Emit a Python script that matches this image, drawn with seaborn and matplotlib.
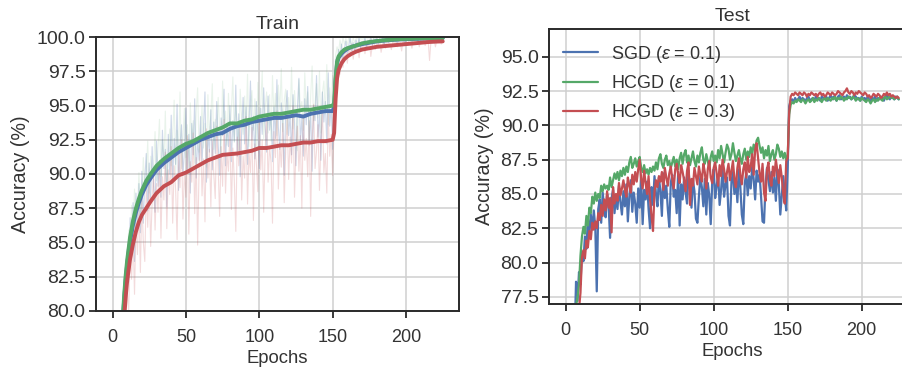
import numpy as np
import pandas as pd
import matplotlib
matplotlib.use("Agg")
import matplotlib.pyplot as plt
import seaborn as sns

# ---------------- data ----------------
# smoothed training accuracy (sampled epochs)
train_smooth_epochs = [5, 6, 7, 8, 9, 10, 12, 14, 16, 18, 20, 23, 26, 30, 35, 40, 45, 50, 55, 60,
                       65, 70, 75, 80, 85, 90, 95, 100, 105, 110, 115, 120, 125, 130, 135, 140, 145, 150,
                       151, 152, 153, 154, 156, 158, 160, 163, 166, 170, 175, 180, 185, 190, 195, 200,
                       205, 210, 215, 220, 225]
train_sgd_smooth = [74.5, 77.0, 79.2, 80.9, 82.3, 83.4, 85.1, 86.3, 87.2, 87.9, 88.5, 89.2, 89.7, 90.3, 90.8,
                    91.2, 91.6, 91.9, 92.2, 92.5, 92.7, 92.9, 93.0, 93.3, 93.5, 93.6, 93.8, 93.9, 94.0, 94.1,
                    94.1, 94.2, 94.3, 94.2, 94.4, 94.5, 94.6, 94.6, 94.9, 96.8, 98.1, 98.5, 98.8, 99.0, 99.15,
                    99.3, 99.4, 99.5, 99.6, 99.7, 99.76, 99.8, 99.84, 99.86, 99.88, 99.9, 99.92, 99.93, 99.94]
train_hcgd1_smooth = [75.0, 77.5, 79.5, 81.2, 82.6, 83.7, 85.4, 86.6, 87.5, 88.2, 88.8, 89.5, 90.0, 90.6, 91.1,
                      91.5, 91.9, 92.2, 92.4, 92.7, 93.0, 93.2, 93.4, 93.7, 93.7, 93.9, 94.0, 94.2, 94.3, 94.4,
                      94.4, 94.5, 94.6, 94.7, 94.7, 94.8, 94.9, 95.0, 95.2, 97.0, 98.2, 98.6, 98.9, 99.1, 99.2,
                      99.3, 99.4, 99.55, 99.65, 99.72, 99.78, 99.82, 99.86, 99.88, 99.9, 99.92, 99.93, 99.94, 99.95]
train_hcgd3_smooth = [72.5, 75.0, 77.3, 79.5, 81.0, 82.2, 83.8, 84.9, 85.8, 86.5, 87.0, 87.5, 88.0, 88.6, 89.1,
                      89.4, 89.9, 90.1, 90.4, 90.7, 91.0, 91.2, 91.4, 91.45, 91.5, 91.6, 91.7, 91.9, 91.9, 92.0,
                      92.1, 92.1, 92.2, 92.3, 92.3, 92.4, 92.4, 92.5, 93.0, 95.5, 97.0, 97.6, 98.1, 98.4, 98.6,
                      98.8, 98.95, 99.1, 99.2, 99.3, 99.35, 99.4, 99.45, 99.5, 99.55, 99.6, 99.65, 99.68, 99.7]

# raw (noisy) per-epoch training accuracy, epochs 0..225
train_sgd_raw = [
    44.0, 57.0, 63.5, 68.0, 71.5, 74.0, 76.8, 78.9, 80.8, 82.6,
    84.5, 82.1, 86.8, 84.0, 87.9, 83.6, 88.6, 86.2, 89.3, 85.7,
    90.2, 86.4, 89.6, 91.5, 87.3, 90.8, 88.1, 92.0, 89.0, 87.2,
    92.4, 89.1, 91.0, 88.3, 93.2, 90.4, 91.8, 87.6, 92.9, 90.0,
    94.3, 89.5, 92.6, 90.7, 95.1, 88.8, 92.1, 93.6, 89.9, 91.7,
    94.8, 90.2, 92.9, 88.6, 93.7, 91.4, 95.5, 89.7, 92.6, 91.0,
    94.2, 90.8, 93.5, 96.0, 89.4, 92.9, 91.6, 94.7, 90.3, 93.8,
    91.5, 95.3, 92.2, 89.9, 94.1, 92.8, 96.2, 90.6, 93.7, 92.0,
    95.0, 90.9, 93.9, 92.4, 96.5, 91.3, 94.4, 89.8, 93.1, 95.6,
    92.2, 94.9, 90.7, 93.6, 96.8, 92.5, 94.2, 91.1, 95.3, 93.0,
    90.4, 94.8, 92.9, 96.3, 93.5, 91.6, 95.7, 93.2, 94.5, 90.9,
    94.9, 92.6, 96.9, 93.4, 91.8, 95.2, 94.0, 89.9, 94.6, 96.1,
    92.8, 94.3, 91.4, 95.8, 93.7, 90.6, 94.9, 97.0, 92.4, 94.1,
    91.3, 95.5, 93.6, 96.4, 92.1, 94.7, 90.2, 95.0, 93.9, 97.2,
    92.7, 94.4, 91.0, 96.0, 93.8, 95.3, 92.2, 97.4, 93.5, 94.9,
    91.8, 95.8, 98.4, 98.0, 99.1, 98.6, 99.5, 98.3, 99.2, 99.7,
    98.8, 99.4, 100.0, 99.0, 99.6, 98.9, 99.8, 99.3, 100.0, 99.2,
    99.7, 99.5, 100.0, 99.1, 99.8, 99.6, 100.0, 99.4, 99.9, 99.7,
    100.0, 99.5, 99.9, 99.7, 100.0, 99.3, 99.9, 100.0, 99.6, 99.8,
    100.0, 99.7, 99.9, 100.0, 99.5, 99.9, 100.0, 99.8, 100.0, 99.6,
    100.0, 99.8, 100.0, 99.9, 99.6, 100.0, 99.9, 100.0, 99.7, 100.0,
    99.9, 100.0, 99.8, 100.0, 99.6, 100.0, 99.9, 100.0, 99.8, 100.0,
    99.9, 100.0, 99.7, 100.0, 99.9, 100.0]
train_hcgd1_raw = [
    45.5, 58.5, 64.5, 69.0, 72.4, 75.2, 77.6, 79.8, 81.5, 82.0,
    83.1, 85.9, 84.2, 87.7, 85.3, 88.9, 86.0, 87.4, 90.1, 87.0,
    88.3, 91.2, 88.8, 90.0, 92.4, 88.6, 91.3, 89.7, 90.6, 93.1,
    89.5, 91.9, 94.0, 89.8, 92.5, 90.9, 94.6, 89.2, 91.6, 93.3,
    90.6, 92.8, 95.4, 90.1, 93.2, 91.5, 96.0, 90.4, 92.7, 94.8,
    91.2, 93.6, 90.0, 95.2, 92.3, 93.9, 90.8, 94.5, 96.3, 91.6,
    93.1, 95.0, 91.9, 93.7, 90.5, 95.8, 92.6, 94.3, 96.6, 91.8,
    94.0, 92.7, 95.6, 93.3, 91.2, 96.8, 93.5, 94.6, 92.1, 95.9,
    93.0, 94.7, 97.1, 92.3, 95.0, 93.8, 91.6, 96.2, 94.1, 92.9,
    95.7, 93.4, 97.3, 92.0, 94.8, 96.1, 93.2, 95.5, 91.9, 96.7,
    93.6, 95.1, 97.5, 92.6, 94.9, 96.0, 93.0, 95.8, 92.4, 97.2,
    94.2, 95.9, 92.8, 96.5, 94.7, 97.7, 93.1, 95.4, 96.2, 92.9,
    95.6, 94.0, 97.8, 93.3, 96.1, 94.5, 91.7, 96.9, 94.8, 95.3,
    93.2, 97.4, 94.6, 96.0, 92.5, 95.7, 97.9, 93.9, 95.2, 96.6,
    94.1, 97.5, 93.0, 95.9, 96.8, 94.4, 98.0, 93.6, 96.3, 95.1,
    97.2, 96.0, 98.7, 99.3, 98.9, 99.8, 99.2, 100.0, 99.5, 99.9,
    99.4, 100.0, 99.7, 99.3, 100.0, 99.6, 99.9, 100.0, 99.5, 100.0,
    99.8, 100.0, 99.6, 100.0, 99.9, 100.0, 99.7, 100.0, 99.9, 100.0,
    99.8, 100.0, 100.0, 99.7, 100.0, 99.9, 100.0, 99.8, 100.0, 100.0,
    99.9, 100.0, 99.8, 100.0, 100.0, 99.9, 100.0, 99.7, 100.0, 100.0,
    99.9, 100.0, 100.0, 99.8, 100.0, 99.9, 100.0, 100.0, 99.8, 100.0,
    100.0, 99.9, 100.0, 100.0, 99.8, 100.0, 99.9, 100.0, 100.0, 99.9,
    100.0, 100.0, 99.8, 100.0, 99.9, 100.0]
train_hcgd3_raw = [
    40.0, 52.0, 60.0, 65.5, 69.0, 72.0, 74.5, 76.8, 78.7, 80.3,
    81.6, 79.9, 84.0, 82.3, 85.6, 81.2, 86.4, 84.1, 87.5, 82.8,
    88.2, 85.0, 83.6, 88.9, 86.1, 89.6, 84.7, 88.0, 90.2, 85.9,
    89.3, 87.2, 91.0, 85.3, 89.8, 88.1, 91.6, 86.0, 90.3, 88.5,
    92.0, 86.4, 90.6, 88.9, 85.2, 91.4, 89.0, 92.5, 86.7, 90.2,
    88.3, 92.8, 85.6, 90.9, 89.4, 93.0, 87.1, 91.2, 84.8, 90.5,
    92.6, 88.4, 91.1, 86.5, 93.3, 89.7, 91.8, 87.6, 92.4, 90.0,
    88.2, 93.5, 90.4, 86.9, 92.0, 89.1, 94.0, 88.6, 91.5, 90.2,
    93.2, 87.4, 91.9, 89.5, 85.8, 92.7, 90.6, 93.8, 88.1, 91.3,
    89.7, 94.2, 87.8, 91.6, 90.1, 93.4, 86.6, 92.2, 90.8, 88.7,
    93.9, 90.3, 92.5, 87.2, 91.7, 94.4, 89.4, 92.0, 90.9, 86.4,
    93.1, 91.2, 94.6, 88.9, 92.3, 90.5, 93.7, 87.9, 91.8, 94.1,
    89.6, 92.7, 90.8, 95.0, 88.3, 91.9, 93.5, 90.2, 92.8, 87.5,
    94.3, 91.0, 92.6, 89.8, 93.9, 86.9, 92.4, 95.1, 90.4, 91.7,
    93.6, 88.8, 92.2, 94.8, 90.1, 91.5, 88.6, 94.5, 91.3, 92.9,
    89.9, 93.4, 96.4, 97.1, 98.5, 97.3, 98.9, 97.8, 98.6, 99.0,
    98.1, 99.2, 98.7, 99.5, 98.4, 99.3, 98.9, 99.6, 98.5, 99.4,
    99.0, 99.7, 98.8, 99.5, 99.2, 99.8, 98.6, 99.4, 99.7, 99.1,
    99.6, 99.3, 99.8, 98.9, 99.5, 99.7, 99.2, 99.9, 99.4, 99.6,
    99.1, 99.8, 99.5, 99.7, 99.3, 99.9, 99.6, 99.0, 99.8, 99.5,
    99.7, 99.4, 99.9, 99.6, 99.2, 99.8, 99.7, 99.5, 99.9, 99.3,
    99.8, 99.6, 99.9, 99.4, 99.7, 99.9, 98.3, 99.8, 99.6, 99.9,
    99.3, 99.8, 99.7, 99.9, 99.5, 99.8]

# test accuracy, epochs 0..225
test_sgd = [
    30.0, 45.0, 55.0, 62.0, 67.0, 71.0, 74.5, 78.6, 77.2, 79.3,
    78.4, 80.8, 80.1, 81.9, 81.0, 83.2, 82.1, 83.5, 82.4, 83.8,
    82.6, 77.9, 83.9, 84.6, 82.9, 85.1, 84.0, 83.3, 85.0, 84.2,
    81.8, 84.7, 85.3, 83.6, 84.9, 83.9, 85.6, 84.4, 83.5, 85.2,
    84.1, 85.7, 83.0, 84.8, 86.0, 83.7, 85.1, 84.3, 82.9, 85.4,
    84.0, 86.1, 82.8, 85.3, 84.6, 85.9, 83.9, 82.5, 85.5, 84.2,
    86.3, 85.0, 84.1, 86.2, 85.2, 83.4, 86.5, 84.7, 85.6, 83.9,
    82.6, 85.8, 86.4, 84.8, 85.3, 83.6, 86.6, 82.7, 85.7, 84.6,
    86.2, 85.1, 84.3, 86.7, 85.4, 84.0, 86.0, 85.2, 83.2, 82.9,
    84.8, 86.3, 85.5, 84.1, 86.1, 83.5, 85.8, 84.9, 82.8, 85.9,
    86.8, 84.7, 85.6, 86.4, 84.2, 85.3, 86.9, 84.8, 85.7, 86.2,
    83.4, 82.7, 85.9, 86.6, 85.0, 86.1, 84.4, 86.8, 85.5, 83.5,
    82.8, 85.8, 86.5, 84.9, 86.3, 85.4, 87.0, 86.1, 84.6, 86.7,
    85.9, 86.4, 84.8, 83.0, 82.9, 85.6, 86.9, 86.0, 85.2, 86.6,
    85.1, 86.2, 84.5, 86.8, 85.7, 83.5, 84.9, 86.3, 85.0, 83.8,
    86.9, 91.4, 91.8, 91.9, 91.7, 92.0, 91.8, 91.9, 92.1, 91.8,
    92.0, 91.9, 91.7, 92.0, 92.1, 91.8, 91.9, 92.0, 91.8, 92.1,
    91.9, 92.0, 91.8, 92.1, 92.0, 91.9, 92.1, 91.8, 92.0, 92.2,
    91.9, 92.1, 92.0, 91.8, 92.1, 92.2, 91.9, 92.0, 92.1, 91.9,
    92.2, 92.0, 92.1, 91.9, 92.0, 92.2, 92.1, 91.9, 92.0, 91.8,
    92.1, 91.9, 92.0, 91.8, 92.1, 91.9, 91.7, 92.0, 91.9, 92.1,
    91.8, 92.0, 91.9, 92.1, 92.0, 91.8, 92.1, 92.2, 92.0, 91.9,
    92.1, 92.0, 91.9, 92.1, 92.0, 91.9]
test_hcgd1 = [
    32.0, 47.0, 57.0, 63.0, 68.0, 72.0, 75.0, 76.8, 77.5, 78.4,
    80.5, 81.9, 82.6, 82.1, 83.4, 82.7, 84.0, 83.6, 84.8, 84.3,
    85.1, 84.5, 85.0, 84.7, 85.6, 85.2, 85.7, 85.4, 85.6, 85.3,
    86.2, 85.5, 86.0, 86.5, 86.1, 86.6, 86.0, 86.7, 86.3, 86.9,
    86.4, 87.0, 86.6, 87.3, 87.7, 86.9, 87.2, 87.6, 87.0, 87.4,
    87.7, 86.9, 86.6, 87.1, 86.5, 86.8, 86.4, 86.9, 86.6, 87.0,
    86.7, 87.3, 86.8, 87.6, 87.9, 87.2, 86.9, 87.5, 87.8, 87.1,
    87.4, 86.9, 87.3, 87.7, 87.0, 87.5, 86.8, 87.6, 88.0, 87.2,
    87.9, 88.2, 87.3, 87.8, 87.1, 87.6, 88.1, 87.4, 87.0, 87.8,
    87.3, 88.0, 88.4, 87.5, 87.2, 87.9, 87.4, 86.9, 87.7, 88.1,
    87.4, 87.8, 87.3, 88.2, 87.6, 88.5, 87.9, 87.3, 88.0, 88.6,
    88.3, 87.5, 87.9, 88.7, 88.0, 87.4, 87.8, 88.2, 87.6, 87.2,
    87.9, 88.3, 87.5, 88.1, 87.7, 88.4, 87.9, 88.6, 88.2, 88.9,
    89.1, 88.5, 88.0, 88.4, 87.6, 88.2, 87.8, 88.5, 87.4, 87.9,
    88.2, 87.5, 87.9, 88.6, 88.3, 87.7, 88.1, 87.6, 88.0, 87.5,
    87.8, 90.8, 91.5, 91.7, 91.6, 91.8, 91.7, 91.9, 91.8, 91.7,
    91.9, 91.8, 91.6, 91.8, 91.9, 91.7, 91.8, 92.0, 91.7, 91.9,
    91.8, 92.0, 91.9, 91.7, 91.9, 92.0, 91.8, 92.0, 91.9, 91.8,
    92.0, 91.9, 92.1, 91.8, 92.0, 91.9, 92.1, 92.0, 91.8, 92.0,
    91.9, 92.1, 92.0, 91.9, 92.1, 92.0, 91.8, 92.0, 91.9, 91.8,
    92.0, 91.9, 91.8, 91.7, 91.9, 91.8, 91.6, 91.8, 91.9, 91.7,
    91.9, 91.8, 92.0, 91.9, 91.8, 92.0, 92.1, 91.9, 92.0, 92.1,
    92.0, 92.1, 91.9, 92.0, 92.1, 91.9]
test_hcgd3 = [
    28.0, 42.0, 52.0, 60.0, 65.0, 69.0, 72.5, 74.5, 75.8, 76.6,
    77.8, 80.4, 80.9, 80.3, 81.6, 81.1, 82.3, 81.7, 82.9, 82.4,
    83.0, 82.5, 83.6, 83.1, 84.2, 83.4, 84.6, 83.8, 85.2, 84.0,
    84.7, 82.2, 85.5, 84.3, 85.0, 84.5, 85.8, 84.9, 85.4, 86.0,
    85.3, 84.8, 86.2, 85.6, 85.1, 86.4, 85.7, 86.6, 85.9, 86.8,
    87.5, 86.1, 85.4, 86.7, 85.8, 85.0, 86.3, 84.6, 83.4, 82.3,
    85.2, 86.0, 85.5, 86.3, 85.9, 86.6, 85.3, 86.9, 86.2, 85.6,
    86.5, 87.0, 86.1, 85.4, 86.8, 87.2, 86.4, 85.8, 87.1, 86.6,
    86.0, 85.2, 86.7, 87.3, 84.2, 86.1, 85.6, 86.9, 86.3, 85.7,
    87.0, 86.4, 85.9, 87.2, 86.6, 85.4, 86.8, 87.4, 86.2, 85.8,
    86.9, 87.3, 86.5, 85.6, 87.1, 86.3, 87.5, 86.8, 85.9, 86.6,
    87.2, 86.0, 86.7, 87.4, 86.1, 85.5, 86.9, 87.6, 86.4, 85.7,
    86.8, 87.3, 86.2, 87.7, 86.6, 87.0, 87.9, 86.4, 88.2, 88.7,
    87.6, 86.5, 85.9, 87.2, 85.1, 84.5, 86.8, 87.3, 86.0, 85.6,
    87.0, 86.3, 87.5, 86.7, 85.8, 87.1, 86.2, 85.0, 84.3, 87.4,
    87.6, 91.0, 92.1, 92.3, 92.2, 92.4, 92.3, 92.2, 92.4, 92.3,
    92.2, 92.4, 92.3, 92.1, 92.3, 92.2, 92.4, 92.3, 92.2, 92.3,
    92.1, 92.3, 92.4, 92.2, 92.3, 92.1, 92.2, 92.4, 92.3, 92.2,
    92.4, 92.3, 92.2, 92.3, 92.5, 92.4, 92.3, 92.2, 92.4, 92.5,
    92.7, 92.4, 92.3, 92.5, 92.4, 92.2, 92.4, 92.3, 92.5, 92.4,
    92.3, 92.2, 92.4, 92.3, 92.1, 92.2, 92.0, 92.1, 92.3, 92.2,
    92.1, 92.3, 92.2, 92.0, 92.1, 92.3, 92.2, 92.4, 92.2, 92.3,
    92.1, 92.2, 92.1, 92.0, 92.1, 92.0]

series_labels = ["SGD ($\\varepsilon$ = 0.1)", "HCGD ($\\varepsilon$ = 0.1)", "HCGD ($\\varepsilon$ = 0.3)"]
series_colors = ["#4C72B0", "#55A868", "#C44E52"]
train_y_ticks = [80.0, 82.5, 85.0, 87.5, 90.0, 92.5, 95.0, 97.5, 100.0]
test_y_ticks = [77.5, 80.0, 82.5, 85.0, 87.5, 90.0, 92.5, 95.0]
x_ticks = [0, 50, 100, 150, 200]

# ---------------- style ----------------
sns.set_style("whitegrid")
text_c = "#333333"
plt.rcParams.update({
    "font.family": ["Liberation Sans", "DejaVu Sans"],
    "mathtext.fontset": "custom",
    "mathtext.rm": "Liberation Sans",
    "mathtext.it": "Liberation Sans:italic",
    "axes.edgecolor": "#2a2a2a",
    "axes.linewidth": 1.4,
    "grid.color": "#cfcfcf",
    "grid.linewidth": 1.1,
    "xtick.bottom": True,
    "ytick.left": True,
    "xtick.major.size": 5,
    "ytick.major.size": 5,
    "xtick.major.width": 1.3,
    "ytick.major.width": 1.3,
    "xtick.color": "#2a2a2a",
    "ytick.color": "#2a2a2a",
    "xtick.labelcolor": text_c,
    "ytick.labelcolor": text_c,
    "xtick.major.pad": 8,
    "ytick.major.pad": 2.5,
    "text.color": text_c,
    "axes.labelcolor": text_c,
})

fig = plt.figure(figsize=(9.03, 3.69), dpi=100)
ax1 = fig.add_axes([0.1063, 0.158, 0.4023, 0.741])
ax2 = fig.add_axes([0.608, 0.177, 0.4057, 0.7434])

YTICK_FS = 14
XTICK_FS = 13
XLABEL_FS = 13.3
YLABEL_FS = 14.2
TITLE_FS = 14

# ---- Train ----
raw_list = [train_sgd_raw, train_hcgd1_raw, train_hcgd3_raw]
smooth_list = [train_sgd_smooth, train_hcgd1_smooth, train_hcgd3_smooth]
raw_alphas = [0.27, 0.13, 0.2]
for raw, col, a in zip(raw_list, series_colors, raw_alphas):
    sns.lineplot(x=np.arange(len(raw)), y=raw, ax=ax1, color=col, lw=0.8, alpha=a)
for sm, col in zip(smooth_list, series_colors):
    sns.lineplot(x=train_smooth_epochs, y=sm, ax=ax1, color=col, lw=2.8)
ax1.set_ylim(80, 100)
ax1.set_yticks(train_y_ticks)
ax1.set_yticklabels([f"{v:.1f}" for v in train_y_ticks])
ax1.set_xticks(x_ticks)
ax1.set_xlim(-11.25, 236.25)
ax1.set_title("Train", fontsize=TITLE_FS, color=text_c)
ax1.set_xlabel("Epochs", fontsize=XLABEL_FS, labelpad=3)
ax1.set_ylabel("Accuracy (%)", fontsize=YLABEL_FS, labelpad=5)

# ---- Test ----
test_list = [test_sgd, test_hcgd1, test_hcgd3]
for vals, col, lab in zip(test_list, series_colors, series_labels):
    sns.lineplot(x=np.arange(len(vals)), y=vals, ax=ax2, color=col, lw=1.6, label=lab)
ax2.set_ylim(77, 97)
ax2.set_yticks(test_y_ticks)
ax2.set_yticklabels([f"{v:.1f}" for v in test_y_ticks])
ax2.set_xticks(x_ticks)
ax2.set_xlim(-11.25, 236.25)
ax2.set_title("Test", fontsize=TITLE_FS, color=text_c)
ax2.set_xlabel("Epochs", fontsize=XLABEL_FS, labelpad=3)
ax2.set_ylabel("Accuracy (%)", fontsize=YLABEL_FS, labelpad=5)
leg = ax2.legend(loc="upper left", frameon=False, fontsize=13, handlelength=1.9,
                 handletextpad=0.75, labelspacing=0.45, borderaxespad=0.4)

for ax in (ax1, ax2):
    ax.tick_params(axis="y", labelsize=YTICK_FS)
    ax.tick_params(axis="x", labelsize=XTICK_FS)
    ax.set_axisbelow(True)

fig.savefig("out.png", dpi=100)
